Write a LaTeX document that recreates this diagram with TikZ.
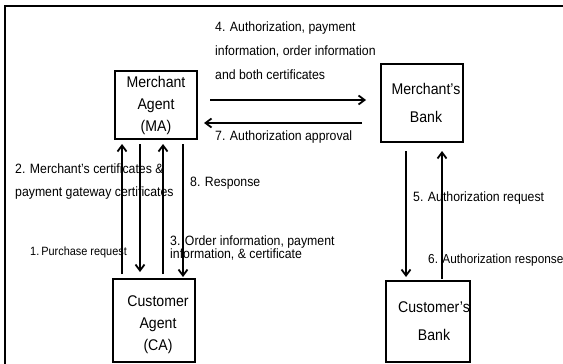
\documentclass[tikz,border=0pt]{standalone}
\usepackage{fontspec}
\setmainfont{Liberation Sans}[FakeStretch=0.91]
\usetikzlibrary{arrows.meta,calc}
\begin{document}
\begin{tikzpicture}[x=1pt,y=-1pt,
  box/.style={draw, line width=2pt, minimum width=82pt, inner sep=0pt, align=center, font=\fontsize{15.5}{22}\selectfont},
  lbl/.style={anchor=west, inner sep=0pt, align=left, font=\fontsize{13.5}{24}\selectfont},
  arr/.style={line width=1.8pt, -{Straight Barb[length=6pt,width=9pt]}}]
\useasboundingbox (0,0) rectangle (563,364);
\draw[line width=2pt] (5,364) -- (5,6) -- (563,6);

\node[box, minimum height=68pt] (ma) at (156,105) {Merchant\\Agent\\(MA)};
\node[box, minimum height=78pt, font=\fontsize{15.5}{28}\selectfont] (mb) at (422,103) {\hspace*{8pt}Merchant's\\\hspace*{8pt}Bank};
\node[box, minimum height=83pt] (ca) at (154,320.5) {\mbox{}\\[-2pt]\hspace*{8pt}Customer\\\hspace*{8pt}Agent\\\hspace*{8pt}(CA)};
\node[box, minimum height=81pt, font=\fontsize{15.5}{28}\selectfont] (cb) at (428,321.5) {\hspace*{12pt}Customer's\\\hspace*{12pt}Bank};

\coordinate (v1) at (122,0);
\coordinate (v2) at (140,0);
\coordinate (v3) at (163,0);
\coordinate (v4) at (183,0);
\coordinate (v5) at (406,0);
\coordinate (v6) at (442,0);
\coordinate (h4) at (0,100);
\coordinate (h7) at (0,123);

\node[lbl] (l4) at (215,51) {4. Authorization, payment\\information, order information\\and both certificates};
\node[lbl] (l7) at (215,137) {7. Authorization approval};
\node[lbl, font=\fontsize{13.5}{23}\selectfont] (l2) at (15,181.5) {2. Merchant's certificates \&\\payment gateway certificates};
\node[lbl] (l8) at (190,183) {8. Response};
\node[lbl, font=\fontsize{13.5}{12.5}\selectfont] (l3) at (170,248) {3. Order information, payment\\information, \& certificate};
\node[lbl, font=\fontsize{12}{14}\selectfont] (l1) at (30,252) {1.\hspace{2pt}Purchase request};
\node[lbl] (l5) at (413,198) {5. Authorization request};
\node[lbl, font=\fontsize{13}{14}\selectfont] (l6) at (428,260) {6. Authorization response};

\draw[arr, shorten <=4pt, shorten >=4pt] (ca.north -| v1) -- (ma.south -| v1);
\draw[arr, shorten <=4pt, shorten >=6pt] (ma.south -| v2) -- (ca.north -| v2);
\draw[arr, shorten <=4pt, shorten >=4pt] (ca.north -| v3) -- (ma.south -| v3);
\draw[arr, shorten <=4pt, shorten >=1pt] (ma.south -| v4) -- (ca.north -| v4);
\draw[arr, shorten <=8pt, shorten >=3pt] (mb.south -| v5) -- (cb.north -| v5);
\draw[arr, shorten <=1pt, shorten >=8pt] (cb.north -| v6) -- (mb.south -| v6);
\draw[arr, shorten <=12pt, shorten >=14pt] (ma.east |- h4) -- (mb.west |- h4);
\draw[arr, shorten <=18pt, shorten >=6pt] (mb.west |- h7) -- (ma.east |- h7);
\end{tikzpicture}
\end{document}
